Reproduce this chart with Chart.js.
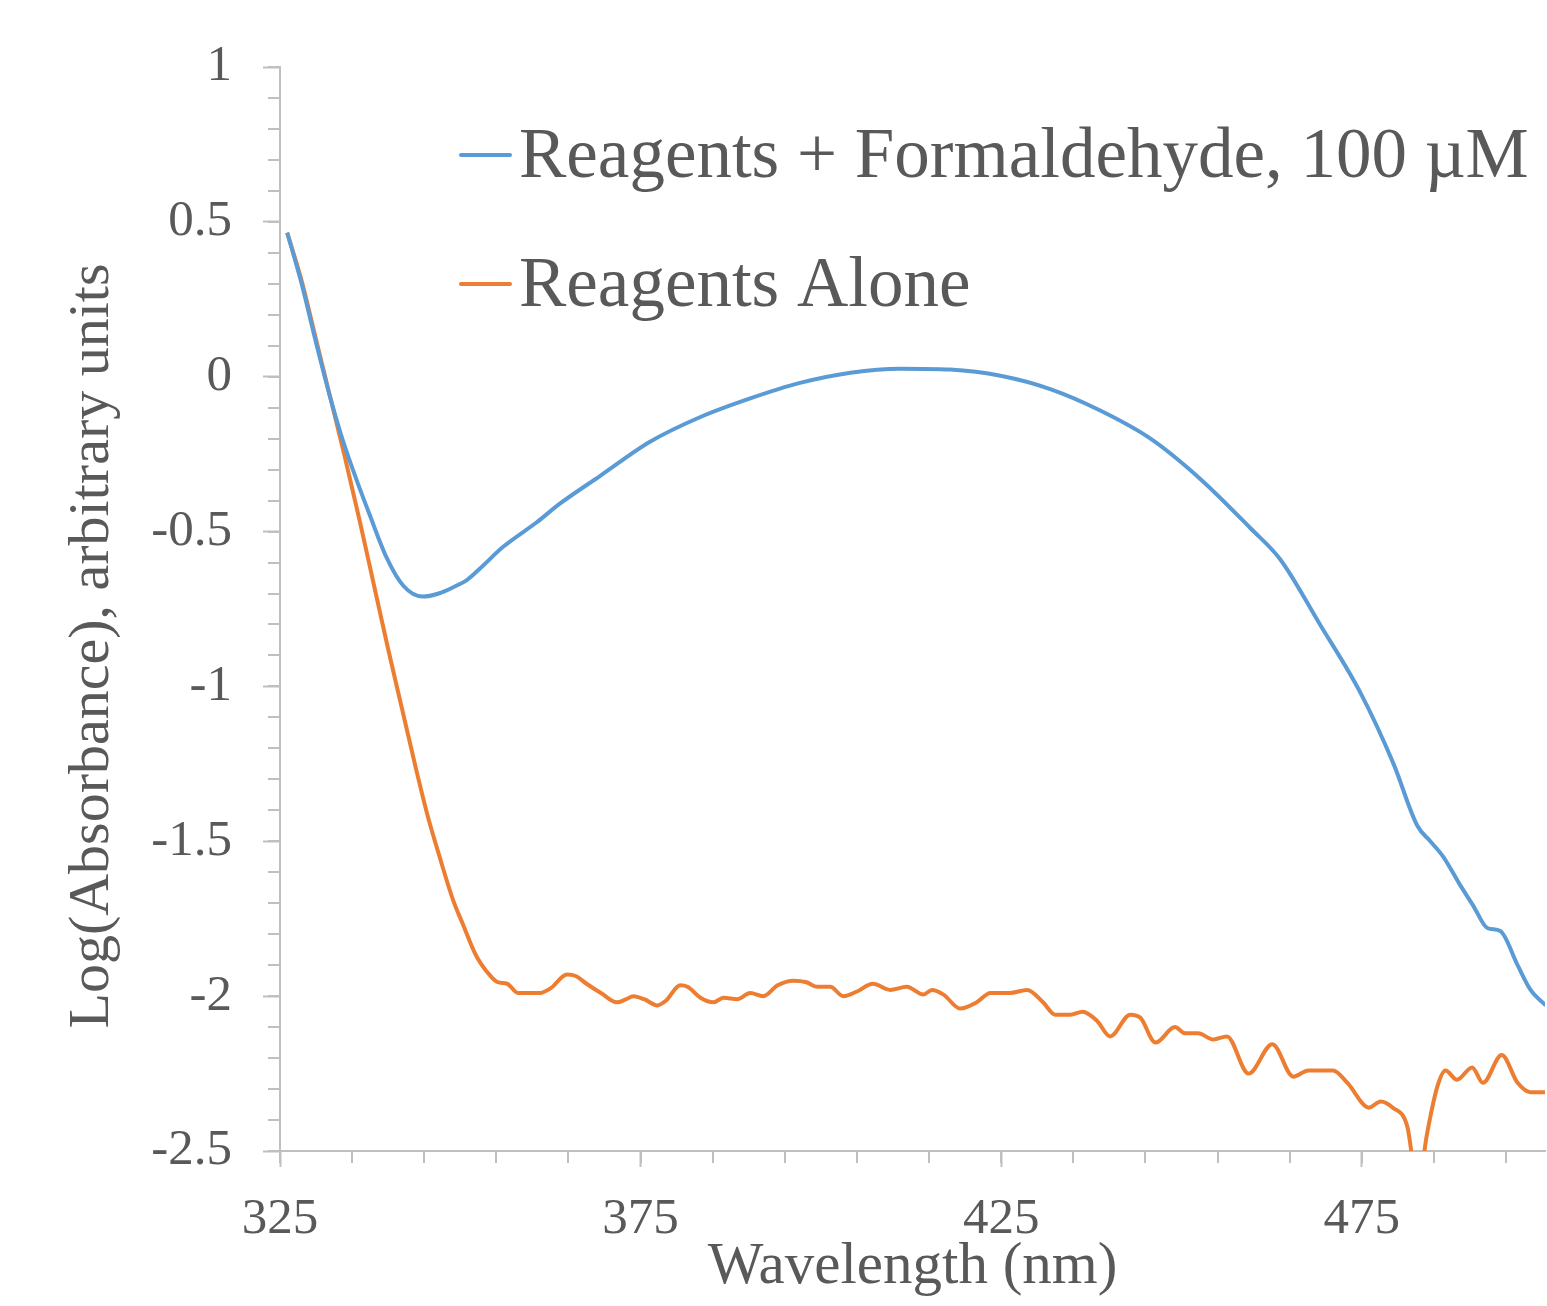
<!DOCTYPE html>
<html>
<head>
<meta charset="utf-8">
<script src="https://cdn.jsdelivr.net/npm/chart.js@4/dist/chart.umd.min.js"></script>
<style>
  html, body { margin: 0; padding: 0; background: #ffffff; }
  #wrap { width: 1547px; height: 1306px; position: relative; }
</style>
</head>
<body>
<div id="wrap"><canvas id="c"></canvas></div>
<script>
// ---- Data ----
const seriesNames = ["Reagents + Formaldehyde, 100 \u00b5M", "Reagents Alone"];
const xTitle = "Wavelength (nm)";
const yTitle = "Log(Absorbance), arbitrary units";

const xMajorTicks = [325, 375, 425, 475];
const yMajorTicks = [1, 0.5, 0, -0.5, -1, -1.5, -2, -2.5];

const wavelengthsFormaldehyde = [326, 328, 330, 332, 333.5, 335.1, 337.5, 339.8, 342.1, 344.8, 347, 349, 351, 352.7, 355.9, 360.6, 363.8, 369.4, 376.3, 383.3, 390.2, 397.1, 404.1, 411, 417.9, 424.9, 431.8, 438.8, 445.7, 452.6, 459.6, 463.7, 469.2, 474.8, 479.4, 482.7, 484.5, 486.3, 488.6, 490.5, 492.4, 494.2, 496.6, 498.4, 500.5];
const logAbsFormaldehyde = [0.465, 0.30, 0.11, -0.07, -0.19, -0.30, -0.45, -0.585, -0.675, -0.71, -0.70, -0.68, -0.655, -0.62, -0.55, -0.47, -0.41, -0.32, -0.21, -0.13, -0.07, -0.02, 0.013, 0.026, 0.023, 0.003, -0.04, -0.11, -0.20, -0.33, -0.49, -0.59, -0.80, -1.02, -1.25, -1.45, -1.50, -1.55, -1.64, -1.71, -1.78, -1.79, -1.90, -1.98, -2.03];

const wavelengthsAlone = [326, 328, 330, 332, 334, 336, 338, 340, 342, 344, 345.5, 347, 349, 350.4, 352, 353, 354, 355.2, 356.5, 358, 361, 362.5, 364.8, 366, 367.5, 369.5, 371.7, 373, 374, 375.5, 377.3, 378.5, 380.5, 381.5, 383.3, 385.1, 386.5, 388.4, 390.2, 392, 394, 396.2, 398, 399.5, 401.3, 403.1, 405, 407.2, 409.6, 411.9, 414.2, 415.4, 417, 419.3, 421.6, 423.5, 426.2, 428.6, 430.8, 432.5, 434.6, 436.3, 438.3, 440.1, 442.9, 444.3, 446.4, 449.1, 450.5, 452.3, 454.4, 456.3, 459.3, 462.6, 465.5, 467.6, 471, 473, 476, 477.6, 479.3, 481.3, 482.8, 484, 485.5, 486.6, 488.2, 490.3, 491.8, 494.4, 496.6, 498.4, 500.5];
const logAbsAlone = [0.465, 0.31, 0.12, -0.07, -0.26, -0.46, -0.67, -0.88, -1.08, -1.28, -1.42, -1.54, -1.69, -1.77, -1.86, -1.90, -1.93, -1.955, -1.96, -1.99, -1.99, -1.975, -1.93, -1.935, -1.96, -1.99, -2.02, -2.01, -2.0, -2.01, -2.03, -2.015, -1.965, -1.97, -2.005, -2.02, -2.005, -2.01, -1.99, -2.0, -1.965, -1.95, -1.955, -1.97, -1.97, -2.0, -1.985, -1.96, -1.98, -1.97, -1.995, -1.98, -1.995, -2.04, -2.02, -1.99, -1.99, -1.98, -2.02, -2.06, -2.06, -2.05, -2.08, -2.13, -2.06, -2.07, -2.15, -2.10, -2.12, -2.12, -2.14, -2.13, -2.25, -2.155, -2.26, -2.24, -2.24, -2.28, -2.36, -2.34, -2.36, -2.42, -2.62, -2.45, -2.29, -2.24, -2.27, -2.23, -2.28, -2.19, -2.28, -2.31, -2.31];

// ---- Styling ----
const TEXT = '#595959';
const AXIS = '#bfbfbf';
const FONT = "'Liberation Serif', 'Times New Roman', serif";
const BLUE = '#5b9bd5';
const ORANGE = '#ed7d31';

function pts(xs, ys) { return xs.map((x, i) => ({ x: x, y: ys[i] })); }

// Minor tick marks drawn through the chart's own scales
const minorTicks = {
  id: 'minorTicks',
  afterDraw(chart) {
    const ctx = chart.ctx, xs = chart.scales.x, ys = chart.scales.y;
    const area = chart.chartArea;
    ctx.save();
    ctx.strokeStyle = AXIS;
    ctx.lineWidth = 2;
    ctx.beginPath();
    for (let v = -25; v <= 10; v++) {
      const y = Math.round(ys.getPixelForValue(v / 10));
      ctx.moveTo(area.left - 12, y);
      ctx.lineTo(area.left, y);
    }
    for (let v = 325; v <= 500; v += 10) {
      const x = Math.round(xs.getPixelForValue(v));
      ctx.moveTo(x, area.bottom);
      ctx.lineTo(x, area.bottom + 12);
    }
    ctx.stroke();
    ctx.restore();
  }
};

// Legend inside the plot area and rotated y title
const innerLegend = {
  id: 'innerLegend',
  afterDraw(chart) {
    const ctx = chart.ctx;
    ctx.save();
    const rows = [{ lineY: 155, base: 177 }, { lineY: 284, base: 306 }];
    chart.data.datasets.forEach((ds, i) => {
      const r = rows[i];
      ctx.strokeStyle = ds.borderColor;
      ctx.lineWidth = 4;
      ctx.lineCap = 'round';
      ctx.beginPath();
      ctx.moveTo(461, r.lineY);
      ctx.lineTo(510, r.lineY);
      ctx.stroke();
      ctx.fillStyle = TEXT;
      ctx.font = "71px " + FONT;
      ctx.textBaseline = 'alphabetic';
      ctx.textAlign = 'left';
      ctx.fillText(ds.label, 519, r.base);
    });
    // y axis title
    ctx.translate(108, 646);
    ctx.rotate(-Math.PI / 2);
    ctx.font = "58px " + FONT;
    ctx.fillStyle = TEXT;
    ctx.textAlign = 'center';
    ctx.textBaseline = 'alphabetic';
    ctx.fillText(yTitle, 0, 0);
    ctx.restore();
  }
};

new Chart(document.getElementById('c'), {
  type: 'line',
  data: {
    datasets: [
      { label: seriesNames[0], data: pts(wavelengthsFormaldehyde, logAbsFormaldehyde), borderColor: BLUE, backgroundColor: BLUE, borderWidth: 4, pointRadius: 0, cubicInterpolationMode: 'monotone', fill: false },
      { label: seriesNames[1], data: pts(wavelengthsAlone, logAbsAlone), borderColor: ORANGE, backgroundColor: ORANGE, borderWidth: 4, pointRadius: 0, cubicInterpolationMode: 'monotone', fill: false }
    ]
  },
  options: {
    responsive: true,
    maintainAspectRatio: false,
    animation: false,
    events: [],
    layout: { autoPadding: false, padding: { left: 0, right: 2, top: 67, bottom: 0 } },
    plugins: { legend: { display: false }, tooltip: { enabled: false } },
    scales: {
      x: {
        type: 'linear',
        min: 325,
        max: 500.4,
        afterBuildTicks(scale) { scale.ticks = xMajorTicks.map(v => ({ value: v })); },
        afterFit(scale) { scale.height = 155; },
        border: { display: true, color: AXIS, width: 2 },
        grid: { drawOnChartArea: false, drawTicks: true, tickLength: 16, tickColor: AXIS, tickWidth: 2 },
        ticks: { color: TEXT, font: { family: FONT, size: 51 }, padding: 22, maxRotation: 0, autoSkip: false },
        title: { display: true, text: xTitle, color: TEXT, font: { family: FONT, size: 59 }, padding: { top: 0, bottom: 3 } }
      },
      y: {
        type: 'linear',
        min: -2.5,
        max: 1,
        afterBuildTicks(scale) { scale.ticks = yMajorTicks.map(v => ({ value: v })); },
        afterFit(scale) { scale.width = 280; },
        border: { display: true, color: AXIS, width: 2 },
        grid: { drawOnChartArea: false, drawTicks: true, tickLength: 17, tickColor: AXIS, tickWidth: 2 },
        ticks: { color: TEXT, font: { family: FONT, size: 51 }, padding: 31, autoSkip: false,
                 callback: (v) => String(v) }
      }
    }
  },
  plugins: [minorTicks, innerLegend]
});
</script>
</body>
</html>
